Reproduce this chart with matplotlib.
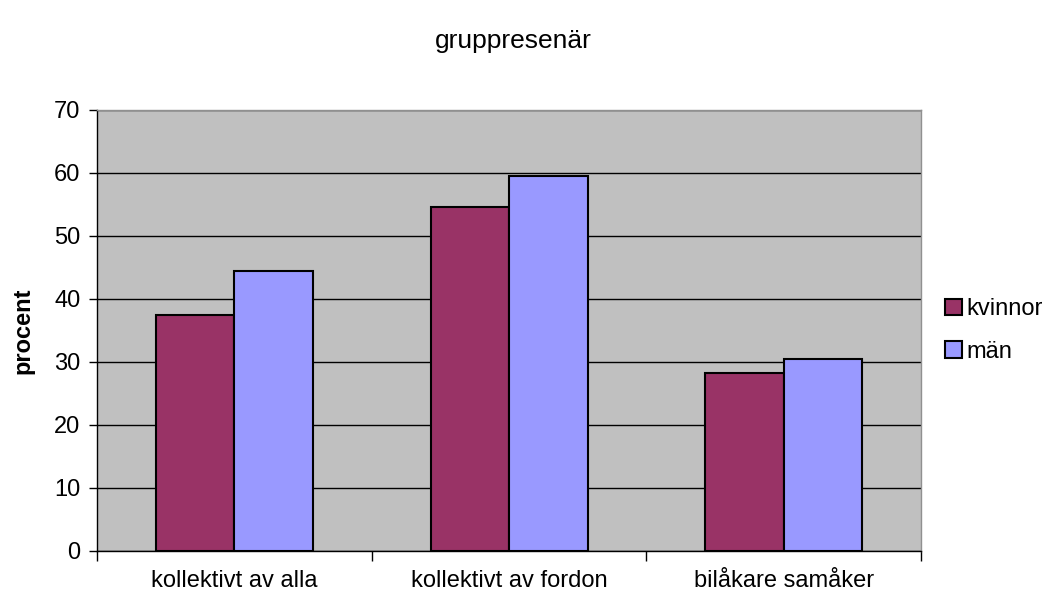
import numpy as np
import matplotlib
matplotlib.use("Agg")
import matplotlib.pyplot as plt

categories = ["kollektivt av alla", "kollektivt av fordon", "bilåkare samåker"]
kvinnor = [37.4, 54.6, 28.3]
man = [44.4, 59.6, 30.4]
series_names = ["kvinnor", "män"]
yticks = [0, 10, 20, 30, 40, 50, 60, 70]

plt.rcParams['font.family'] = ['Liberation Sans', 'DejaVu Sans']

fig = plt.figure(figsize=(10.56, 6.01), dpi=100)
ax = fig.add_axes([0.0919, 0.0832, 0.7803, 0.7338])
ax.set_facecolor("#C0C0C0")

x = np.arange(len(categories))
w = 1 / 3.5
ax.bar(x - w / 2, kvinnor, w, color="#993366", edgecolor="black", linewidth=1.5,
       label=series_names[0], zorder=3)
ax.bar(x + w / 2, man, w, color="#9999FF", edgecolor="black", linewidth=1.5,
       label=series_names[1], zorder=3)

ax.set_xlim(-0.5, len(categories) - 0.5)
ax.set_ylim(0, 70)
ax.set_yticks(yticks)
ax.set_yticklabels([str(t) for t in yticks], fontsize=17)
ax.yaxis.grid(True, color="black", linewidth=1, zorder=1)
ax.set_axisbelow(True)

# category labels centred, ticks on the boundaries
ax.set_xticks(x)
ax.set_xticklabels(categories, fontsize=17)
ax.tick_params(axis="x", length=0, pad=14)
ax.set_xticks(np.arange(len(categories) + 1) - 0.5, minor=True)
ax.tick_params(axis="x", which="minor", length=7, width=1, color="black", direction="out")
ax.tick_params(axis="y", length=6, width=1, direction="out", pad=6)

for s in ["top", "right"]:
    ax.spines[s].set_color("#909090")
    ax.spines[s].set_linewidth(1)
for s in ["left", "bottom"]:
    ax.spines[s].set_color("black")
    ax.spines[s].set_linewidth(1)

ax.set_ylabel("procent", fontsize=17, fontweight="bold", labelpad=14)
fig.suptitle("gruppresenär", fontsize=19, x=0.486, y=0.952)

ax.legend(loc="center left", bbox_to_anchor=(1.018, 0.5), frameon=False,
          fontsize=17, handlelength=0.7, handleheight=0.7, handletextpad=0.2,
          labelspacing=0.85, borderaxespad=0)

fig.savefig("out.png", dpi=100)
